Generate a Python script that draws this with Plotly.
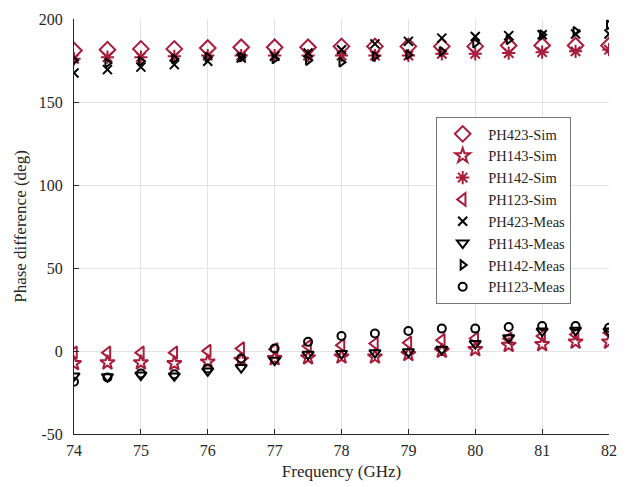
import plotly.graph_objects as go

freq = [74, 74.5, 75, 75.5, 76, 76.5, 77, 77.5, 78, 78.5, 79, 79.5, 80, 80.5, 81, 81.5, 82]

ph423_sim = [181, 181.5, 182, 182, 182.5, 183, 183, 183, 183.5, 183.5, 183.5, 183.5, 183.5, 184, 184, 184, 184]
ph143_sim = [-7.5, -7, -7, -7.5, -6.5, -5.5, -4.5, -4, -3.5, -3.5, -2, 0, 1, 3.5, 4, 5.5, 5.5]
ph142_sim = [176, 177, 177, 177.5, 178, 178, 178, 178, 178, 178, 178, 179, 179, 179.5, 180, 180.5, 181.5]
ph123_sim = [-1, -1, -1, -1, 0, 1.5, 1, 3, 3.5, 4.5, 5, 6.5, 7.5, 7.5, 9, 10, 11]

ph423_meas = [167.5, 169.5, 171, 172.5, 174.5, 176.5, 177.5, 179.5, 181.5, 185, 186.5, 188.5, 189.5, 190, 190.5, 191, 191]
ph143_meas = [-15, -15.5, -14.5, -15, -12, -10, -5.5, -2, -1.5, -1, -0.5, 1, 4.5, 8, 12, 12.5, 12]
ph142_meas = [175, 173.5, 174.5, 176, 177, 177, 176, 175, 174, 177.5, 178.5, 180.5, 185.5, 187.5, 190.5, 192.5, 196.5]
ph123_meas = [-18.5, -16, -13.5, -14, -10.5, -4.5, 1.5, 5.5, 9, 10.5, 12, 13.5, 13.5, 14.5, 15, 15, 14]

x_ticks = [74, 75, 76, 77, 78, 79, 80, 81, 82]
y_ticks = [-50, 0, 50, 100, 150, 200]
y_ticklabels = ["-50", "0", "50", "100", "150", "200"]

RED = "#A81C3C"
BLACK = "#000000"
FONT = "Liberation Serif"
TXT = "#262626"

series = [
    ("PH423-Sim", ph423_sim, "diamond-open", RED, 12),
    ("PH143-Sim", ph143_sim, "star-open", RED, 11),
    ("PH142-Sim", ph142_sim, "asterisk-open", RED, 11),
    ("PH123-Sim", ph123_sim, "triangle-left-open", RED, 11),
    ("PH423-Meas", ph423_meas, "x-thin-open", BLACK, 9),
    ("PH143-Meas", ph143_meas, "triangle-down-open", BLACK, 10),
    ("PH142-Meas", ph142_meas, "triangle-right-open", BLACK, 8),
    ("PH123-Meas", ph123_meas, "circle-open", BLACK, 8),
]

fig = go.Figure()
for name, vals, sym, col, sz in series:
    fig.add_trace(go.Scatter(
        x=freq, y=vals, mode="markers", name=name,
        marker=dict(symbol=sym, size=sz, color=col, line=dict(color=col, width=2)),
    ))

axis_common = dict(
    showgrid=True, gridcolor="#e3e3e3", gridwidth=1,
    showline=True, linecolor=TXT, linewidth=1,
    ticks="inside", ticklen=5, tickcolor=TXT,
    tickfont=dict(family=FONT, size=16, color=TXT),
    zeroline=False, mirror=False, automargin=False,
)

fig.update_layout(
    width=630, height=487,
    margin=dict(l=66, r=29, t=11, b=61),
    paper_bgcolor="white", plot_bgcolor="white",
    font=dict(family=FONT, color=TXT),
    xaxis=dict(range=[74, 82], tickvals=x_ticks, ticklabelstandoff=2,
               title=dict(text="Frequency (GHz)", font=dict(family=FONT, size=17, color=TXT), standoff=6),
               **axis_common),
    yaxis=dict(range=[-50, 200], tickvals=y_ticks, ticktext=y_ticklabels, ticklabelstandoff=7,
               title=dict(text="Phase difference (deg)", font=dict(family=FONT, size=17, color=TXT), standoff=7),
               **axis_common),
    legend=dict(
        x=0.677, y=0.764, xanchor="left", yanchor="top",
        bgcolor="white", bordercolor="#777777", borderwidth=1,
        font=dict(family=FONT, size=14.5, color=TXT),
        itemsizing="trace", itemwidth=41, tracegroupgap=0,
    ),
    showlegend=True,
)

fig.write_html("out.html")
